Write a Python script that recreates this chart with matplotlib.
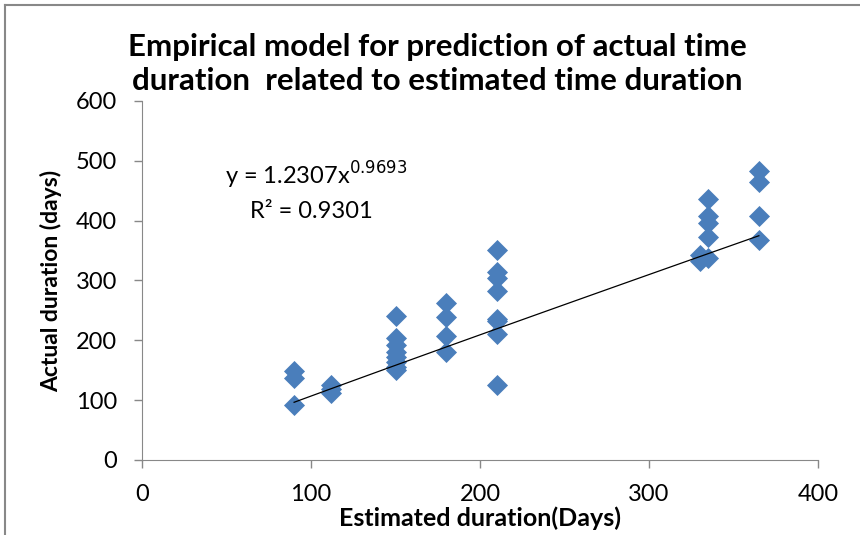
import numpy as np
import matplotlib
matplotlib.use('Agg')
from matplotlib import pyplot as plt
from matplotlib.lines import Line2D

# estimated duration (days) and actual duration (days)
est_days = [90, 90, 90,
            112, 112, 112,
            150, 150, 150, 150, 150, 150, 150, 150,
            180, 180, 180, 180,
            210, 210, 210, 210, 210, 210, 210, 210,
            330, 330,
            335, 335, 335, 335, 335,
            365, 365, 365, 365]
act_days = [149, 137, 92,
            126, 118, 112,
            241, 204, 192, 181, 172, 164, 155, 150,
            263, 239, 207, 181,
            351, 314, 304, 282, 236, 232, 211, 125,
            343, 333,
            437, 408, 396, 372, 338,
            483, 465, 408, 367]

fit_a = 1.2307
fit_b = 0.9693
fit_r2 = 0.9301

plt.rcParams['font.family'] = ['Lato', 'DejaVu Sans']

fig = plt.figure(figsize=(8.6, 5.35), dpi=100)
ax = fig.add_axes([142 / 860, 1 - 460 / 535, 676 / 860, 359 / 535])

ax.scatter(est_days, act_days, marker='D', s=115, color='#4a7ebb', zorder=3, linewidths=0)

x_fit = np.linspace(min(est_days), max(est_days), 100)
ax.plot(x_fit, fit_a * x_fit ** fit_b, color='black', linewidth=0.9, zorder=4)

ax.set_xlim(0, 400)
ax.set_ylim(0, 600)
ax.set_xticks([0, 100, 200, 300, 400])
ax.set_yticks([0, 100, 200, 300, 400, 500, 600])
ax.tick_params(labelsize=17, color='#888888', length=6, width=1, direction='out')
ax.tick_params(axis='x', pad=11)
ax.tick_params(axis='y', pad=12)

for side in ['top', 'right']:
    ax.spines[side].set_visible(False)
for side in ['left', 'bottom']:
    ax.spines[side].set_color('#888888')

ax.set_xlabel('Estimated duration(Days)', fontsize=18, fontweight='bold', labelpad=1)
ax.set_ylabel('Actual duration (days)', fontsize=16.5, fontweight='bold', labelpad=10)

fig.text(0.508, 1 - 33 / 535, 'Empirical model for prediction of actual time\nduration  related to estimated time duration',
         ha='center', va='top', fontsize=22.5, fontweight='bold', linespacing=1.25)

ax.text(49, 460, 'y = %.4fx$^{%.4f}$' % (fit_a, fit_b), fontsize=17)
ax.text(64, 405, 'R² = %.4f' % fit_r2, fontsize=17)

# frame of the picture
fig.add_artist(Line2D([5 / 860, 5 / 860], [0, 1 - 5 / 535], color='#888888', linewidth=1.5))
fig.add_artist(Line2D([5 / 860, 1], [1 - 5 / 535, 1 - 5 / 535], color='#888888', linewidth=1.5))

plt.savefig('out.png', dpi=100)
